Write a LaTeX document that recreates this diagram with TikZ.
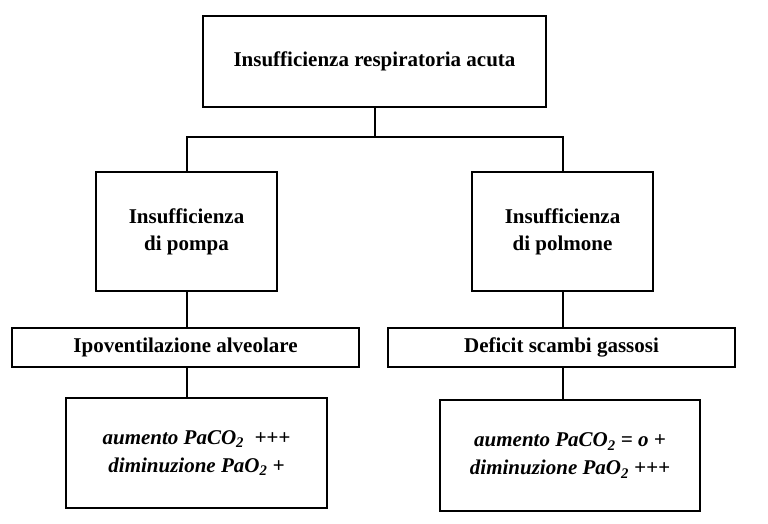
\documentclass[tikz,border=0pt]{standalone}
\usepackage{fontspec}
\setmainfont{Liberation Serif}
\begin{document}
\begin{tikzpicture}[x=1pt,y=-1pt,
 box/.style={draw,line width=1.3pt,fill=white,font=\fontsize{21}{27}\selectfont\bfseries,align=center,inner sep=0pt},
 ln/.style={line width=2pt}]
\useasboundingbox (0,0) rectangle (768,524);
\node[box,minimum width=343,minimum height=91] (top) at (374.5,61.5) {Insufficienza respiratoria acuta};
\node[box,minimum width=181,minimum height=119] (pl) at (186.5,231.5) {Insufficienza\\di pompa};
\node[box,minimum width=181,minimum height=119] (pr) at (562.5,231.5) {Insufficienza\\di polmone};
\node[box,minimum width=347,minimum height=39] (ml) at (185.5,347.5) {Ipoventilazione alveolare};
\node[box,minimum width=347,minimum height=39] (mr) at (561.5,347.5) {Deficit scambi gassosi};
\node[box,minimum width=261,minimum height=110,font=\fontsize{21}{28}\selectfont\bfseries\itshape] (bl) at (196.5,453) {aumento PaCO\textsubscript{2}\ \ +++\\diminuzione PaO\textsubscript{2} +};
\node[box,minimum width=260,minimum height=111,font=\fontsize{21}{28}\selectfont\bfseries\itshape] (br) at (570,455.5) {aumento PaCO\textsubscript{2} = o +\\diminuzione PaO\textsubscript{2} +++};
\coordinate (j) at (374.5,137);
\draw[ln] (top.south) -- (j);
\draw[ln] (pl.north) |- (j) -| (pr.north);
\draw[ln] (pl.south) -- (pl.south|-ml.north);
\draw[ln] (pr.south) -- (pr.south|-mr.north);
\draw[ln] (pl.south|-ml.south) -- (pl.south|-bl.north);
\draw[ln] (pr.south|-mr.south) -- (pr.south|-br.north);
\end{tikzpicture}
\end{document}
